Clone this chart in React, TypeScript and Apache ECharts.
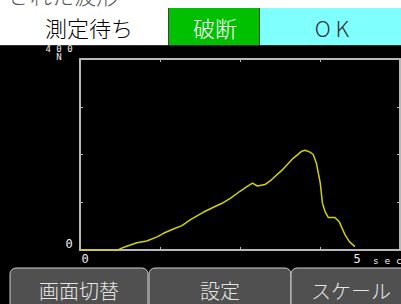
import React, { useEffect, useRef } from "react";
import * as echarts from "echarts";

const timeSec = [0, 0.70, 0.77, 0.86, 1.05, 1.23, 1.41, 1.54, 1.72, 1.88, 2.03, 2.15, 2.27, 2.49, 2.64, 2.77, 2.95, 3.07, 3.18, 3.27, 3.41, 3.53, 3.75, 3.93, 4.09, 4.15, 4.24, 4.30, 4.36, 4.43, 4.47, 4.52, 4.58, 4.70, 4.78, 4.89, 4.97, 5.07];
const forceN = [0, 0, 4, 8, 15, 19, 27, 35, 44, 51, 63, 71, 79, 91, 99, 108, 123, 132, 140, 134, 137, 147, 170, 192, 207, 209, 205, 200, 181, 140, 98, 80, 68, 68, 59, 31, 17, 7];

const headerCells = ["測定待ち", "破断", "O K"];
const buttonLabels = ["画面切替", "設定", "スケール"];
const titleText = "された波形";
const yTopLabel = "4 0 0";
const yUnit = "N";
const yZeroLabel = "0";
const xZeroLabel = "0";
const xEndLabel = "5";
const xUnit = "s e c";

const X_MAX = 5.9;
const Y_MAX = 400;

export default function App() {
  const ref = useRef<HTMLDivElement>(null);
  useEffect(() => {
    if (!ref.current) return;
    const chart = echarts.init(ref.current, null, { renderer: "svg" });
    const data = timeSec.map((t, i) => [t, forceN[i]]);
    const frame = "#b8b8b8";
    const jp = "'Noto Sans CJK JP', sans-serif";
    const mono = "'DejaVu Sans Mono', monospace";
    const axisBase = {
      type: "value" as const,
      axisLine: { show: true, onZero: false, lineStyle: { color: frame, width: 2 } },
      axisTick: { show: true, inside: true, length: 3, lineStyle: { color: frame, width: 1 } },
      axisLabel: { show: false },
      splitLine: { show: false },
    };
    const button = (x: number, w: number, label: string) => ({
      type: "group",
      children: [
        {
          type: "rect",
          shape: { x, y: 268, width: w, height: 40, r: [6, 6, 0, 0] },
          style: { fill: "#505050", stroke: "#cfcfcf", lineWidth: 1 },
        },
        {
          type: "text",
          x: x + w / 2,
          y: 290,
          style: { text: label, fill: "#e6e6e6", font: `300 20px ${jp}`, align: "center", verticalAlign: "middle" },
        },
      ],
    });
    chart.setOption({
      animation: false,
      backgroundColor: "#000000",
      grid: { left: 80, top: 59, right: 1, bottom: 54, containLabel: false },
      xAxis: [
        { ...axisBase, min: 0, max: X_MAX, interval: X_MAX / 4, position: "bottom" },
        { ...axisBase, min: 0, max: X_MAX, interval: X_MAX / 4, position: "top" },
      ],
      yAxis: [
        { ...axisBase, min: 0, max: Y_MAX, interval: 100, position: "left" },
        { ...axisBase, min: 0, max: Y_MAX, interval: 100, position: "right" },
      ],
      series: [
        {
          type: "line",
          data,
          xAxisIndex: 0,
          yAxisIndex: 0,
          showSymbol: false,
          lineStyle: { color: "#d2d200", width: 1.5 },
          z: 5,
        },
      ],
      graphic: [
        { type: "rect", shape: { x: 0, y: 0, width: 401, height: 45 }, style: { fill: "#ffffff" } },
        {
          type: "text",
          x: 8,
          y: -6,
          style: { text: titleText, fill: "#555555", font: `300 22px ${jp}`, align: "left", verticalAlign: "middle" },
        },
        { type: "rect", shape: { x: 169, y: 8, width: 90, height: 37 }, style: { fill: "#00c000" } },
        { type: "rect", shape: { x: 260, y: 8, width: 141, height: 37 }, style: { fill: "#80ffff" } },
        { type: "line", shape: { x1: 168.5, y1: 8, x2: 168.5, y2: 45 }, style: { stroke: "#404040", lineWidth: 1 } },
        { type: "line", shape: { x1: 259.5, y1: 8, x2: 259.5, y2: 45 }, style: { stroke: "#404040", lineWidth: 1 } },
        { type: "line", shape: { x1: 0, y1: 45.5, x2: 401, y2: 45.5 }, style: { stroke: "#303030", lineWidth: 1 } },
        {
          type: "text",
          x: 89,
          y: 27,
          style: { text: headerCells[0], fill: "#000000", font: `300 22px ${jp}`, align: "center", verticalAlign: "middle" },
        },
        {
          type: "text",
          x: 215,
          y: 27,
          style: { text: headerCells[1], fill: "#ffffff", font: `300 22px ${jp}`, align: "center", verticalAlign: "middle" },
        },
        {
          type: "text",
          x: 332,
          y: 27,
          style: { text: headerCells[2], fill: "#303030", font: `300 22px ${jp}`, align: "center", verticalAlign: "middle" },
        },
        {
          type: "text",
          x: 59,
          y: 45,
          style: {
            text: yTopLabel + "\n" + yUnit,
            fill: "#f0f0f0",
            font: `9px ${mono}`,
            lineHeight: 8,
            align: "center",
            verticalAlign: "top",
          },
        },
        {
          type: "text",
          x: 69,
          y: 244,
          style: { text: yZeroLabel, fill: "#f0f0f0", font: `12px ${mono}`, align: "center", verticalAlign: "middle" },
        },
        {
          type: "text",
          x: 85,
          y: 259,
          style: { text: xZeroLabel, fill: "#f0f0f0", font: `12px ${mono}`, align: "center", verticalAlign: "middle" },
        },
        {
          type: "text",
          x: 357,
          y: 259,
          style: { text: xEndLabel, fill: "#f0f0f0", font: `12px ${mono}`, align: "center", verticalAlign: "middle" },
        },
        {
          type: "text",
          x: 373,
          y: 260,
          style: { text: xUnit, fill: "#f0f0f0", font: `9.5px ${mono}`, align: "left", verticalAlign: "middle" },
        },
        button(10, 138, buttonLabels[0]),
        button(149, 142, buttonLabels[1]),
        button(291, 120, buttonLabels[2]),
      ],
    });
    return () => chart.dispose();
  }, []);
  return (
    <div
      ref={ref}
      style={{ position: "absolute", left: 0, top: 0, width: 401, height: 304 }}
    />
  );
}
